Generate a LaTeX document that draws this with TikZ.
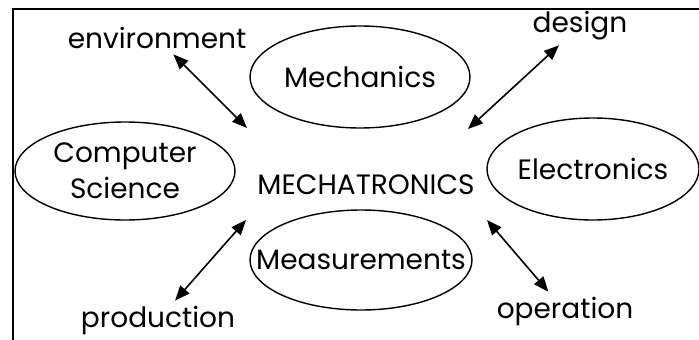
\documentclass[tikz,border=0pt]{standalone}
\usepackage{fontspec}
\setmainfont{Poppins}
\usetikzlibrary{shapes.geometric, arrows.meta, positioning}

\begin{document}
\begin{tikzpicture}[
  x=1pt, y=-1pt,
  every node/.style={font=\fontsize{28}{36}\selectfont, text=black},
  every label/.style={font=\fontsize{28}{36}\selectfont, align=center},
  domaine/.style={ellipse, draw, line width=1.4pt, inner sep=0pt},
  lien/.style={{Triangle[length=15pt,width=12pt]}-{Triangle[length=15pt,width=12pt]}, line width=1.6pt},
]
  \useasboundingbox (0,0) rectangle (699,340);

  % Cadre
  \draw[line width=1.4pt] (699,9) -- (13,9) -- (13,340);

  % Domaines
  \node[domaine, minimum width=220pt, minimum height=102pt, label=center:{Mechanics}] (mech) at (360,77) {};
  \node[domaine, minimum width=220pt, minimum height=98pt, label=center:{Computer\\Science}] (cs) at (125,171) {};
  \node[domaine, minimum width=212pt, minimum height=102pt, label=center:{Electronics}] (elec) at (593,169) {};
  \node[domaine, minimum width=222pt, minimum height=100pt, label=center:{Measurements}] (meas) at (361,260) {};

  % Centre
  \node (mt) at (366,185) {MECHATRONICS};

  % Etiquettes
  \node (env) at (157,38) {environment};
  \node (des) at (580,26) {design};
  \node (prod) at (158,320) {production};
  \node (oper) at (565,311) {operation};

  % Fleches
  \coordinate (envEnd) at (247,128);
  \coordinate (desEnd) at (468,129);
  \coordinate (prodEnd) at (246,220);
  \coordinate (operEnd) at (487,220);
  \draw[lien, shorten <=3pt] (env) -- (envEnd);
  \draw[lien, shorten <=2pt] (des) -- (desEnd);
  \draw[lien, shorten <=2pt] (prod) -- (prodEnd);
  \draw[lien, shorten <=2pt] (oper) -- (operEnd);
\end{tikzpicture}
\end{document}
